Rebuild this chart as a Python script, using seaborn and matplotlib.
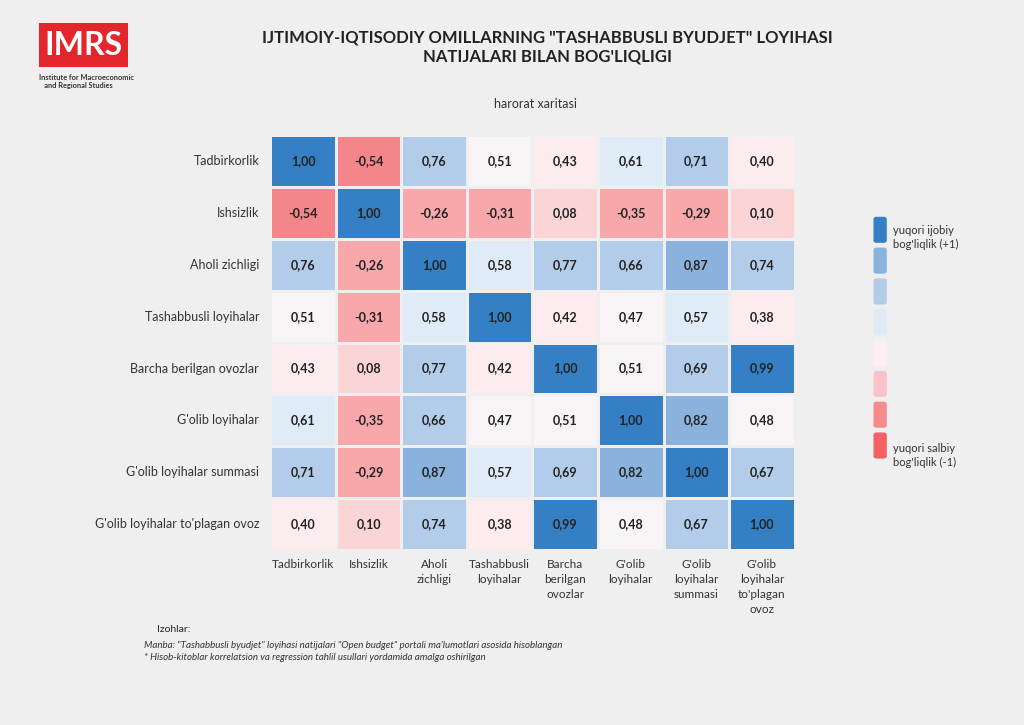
import numpy as np
import pandas as pd
import matplotlib.pyplot as plt
import seaborn as sns
from matplotlib.colors import ListedColormap, BoundaryNorm
from matplotlib.patches import FancyBboxPatch

row_labels = ["Tadbirkorlik", "Ishsizlik", "Aholi zichligi", "Tashabbusli loyihalar",
              "Barcha berilgan ovozlar", "G'olib loyihalar", "G'olib loyihalar summasi",
              "G'olib loyihalar to'plagan ovoz"]
col_labels = ["Tadbirkorlik", "Ishsizlik", "Aholi\nzichligi", "Tashabbusli\nloyihalar",
              "Barcha\nberilgan\novozlar", "G'olib\nloyihalar", "G'olib\nloyihalar\nsummasi",
              "G'olib\nloyihalar\nto'plagan\novoz"]
corr = [
    [1.00, -0.54, 0.76, 0.51, 0.43, 0.61, 0.71, 0.40],
    [-0.54, 1.00, -0.26, -0.31, 0.08, -0.35, -0.29, 0.10],
    [0.76, -0.26, 1.00, 0.58, 0.77, 0.66, 0.87, 0.74],
    [0.51, -0.31, 0.58, 1.00, 0.42, 0.47, 0.57, 0.38],
    [0.43, 0.08, 0.77, 0.42, 1.00, 0.51, 0.69, 0.99],
    [0.61, -0.35, 0.66, 0.47, 0.51, 1.00, 0.82, 0.48],
    [0.71, -0.29, 0.87, 0.57, 0.69, 0.82, 1.00, 0.67],
    [0.40, 0.10, 0.74, 0.38, 0.99, 0.48, 0.67, 1.00],
]
bins = [-1.0, -0.4, -0.2, 0.2, 0.45, 0.55, 0.65, 0.8, 0.95, 1.01]
colors = ["#f4858a", "#f8a7ab", "#fbd4d6", "#fdeced", "#f8f3f5",
          "#e0ebf8", "#b2cce9", "#8ab2dc", "#3580c4"]
legend_colors = ["#3580c4", "#8ab2dc", "#b2cce9", "#e0ebf8", "#fdeef0",
                 "#fbc2c5", "#f78a8e", "#f46165"]

df = pd.DataFrame(corr, index=row_labels, columns=col_labels)
cmap = ListedColormap(colors)
norm = BoundaryNorm(bins, cmap.N)

sns.set_style("white")
plt.rcParams['font.family'] = ['Lato', 'DejaVu Sans']
fig = plt.figure(figsize=(10.24, 7.25), dpi=100)
fig.patch.set_facecolor("#efefef")
ax = fig.add_axes([0.264, 0.241, 0.512, 0.573])
sns.heatmap(df, ax=ax, cmap=cmap, norm=norm, cbar=False, annot=True,
            fmt=".2f", linewidths=2, linecolor="#efefef",
            annot_kws={"fontsize": 9, "fontweight": "bold", "color": "#222222"})
for t in ax.texts:
    t.set_text(t.get_text().replace(".", ","))
ax.tick_params(length=0)
ax.set_xticklabels(col_labels, rotation=0, fontsize=8.5, color="#333333", va="top",
                   linespacing=1.45)
ax.set_yticklabels(row_labels, rotation=0, fontsize=9, color="#333333")
ax.tick_params(axis="x", pad=6)
ax.tick_params(axis="y", pad=8)

fig.text(0.535, 0.935, "IJTIMOIY-IQTISODIY OMILLARNING \"TASHABBUSLI BYUDJET\" LOYIHASI\nNATIJALARI BILAN BOG'LIQLIGI",
         ha="center", va="center", fontsize=12, fontweight="bold", color="#222222", linespacing=1.2)
fig.text(0.523, 0.856, "harorat xaritasi", ha="center", va="center", fontsize=9, color="#333333")

# logo
fig.patches.append(FancyBboxPatch((0.038, 0.908), 0.087, 0.06, boxstyle="square,pad=0",
                                  transform=fig.transFigure, facecolor="#e3262c", edgecolor="none"))
fig.text(0.0815, 0.937, "IMRS", ha="center", va="center", fontsize=23, fontweight="bold", color="white")
fig.text(0.038, 0.898, "Institute for Macroeconomic\n   and Regional Studies", ha="left", va="top",
         fontsize=5.3, fontweight="bold", color="#333333", linespacing=1.1)

# legend
for i, c in enumerate(legend_colors):
    y = 0.665 - i * 0.0425
    fig.patches.append(FancyBboxPatch((0.853, y), 0.013, 0.036, boxstyle="round,pad=0,rounding_size=0.003",
                                      transform=fig.transFigure, facecolor=c, edgecolor="none"))
fig.text(0.872, 0.672, "yuqori ijobiy\nbog'liqlik (+1)", fontsize=8, color="#333333", va="center",
         linespacing=1.3)
fig.text(0.872, 0.372, "yuqori salbiy\nbog'liqlik (-1)", fontsize=8, color="#333333", va="center",
         linespacing=1.3)

fig.text(0.153, 0.128, "Izohlar:", fontsize=7.5, color="#222222")
fig.text(0.141, 0.106, "Manba: \"Tashabbusli byudjet\" loyihasi natijalari \"Open budget\" portali ma'lumotlari asosida hisoblangan",
         fontsize=7, style="italic", color="#333333")
fig.text(0.141, 0.089, "* Hisob-kitoblar korrelatsion va regression tahlil usullari yordamida amalga oshirilgan",
         fontsize=7, style="italic", color="#333333")

fig.savefig("out.png", dpi=100, facecolor=fig.get_facecolor())
